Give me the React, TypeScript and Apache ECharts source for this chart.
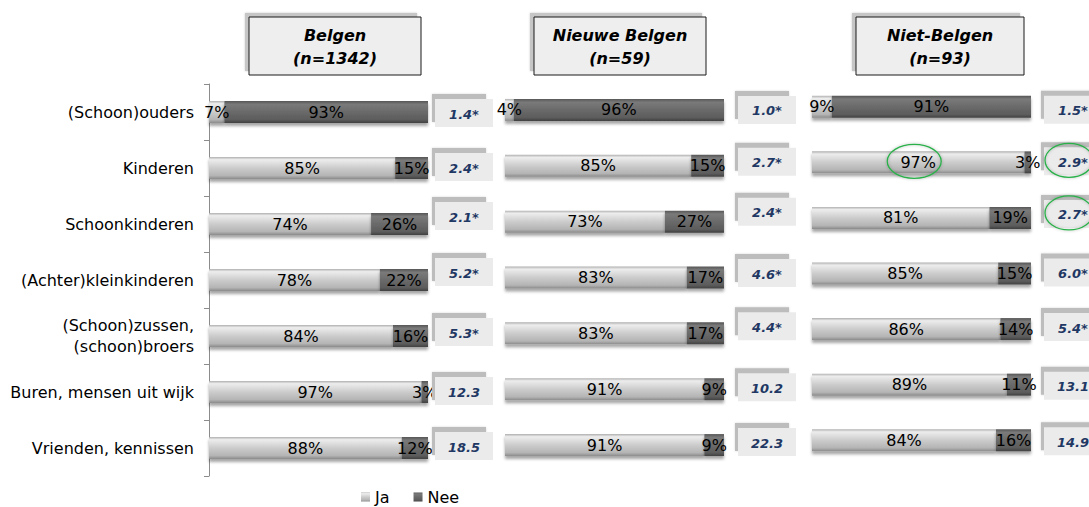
import React, { useEffect, useRef } from "react";
import * as echarts from "echarts";

// ---------- data ----------
const categories = [
  "(Schoon)ouders",
  "Kinderen",
  "Schoonkinderen",
  "(Achter)kleinkinderen",
  "(Schoon)zussen,\n(schoon)broers",
  "Buren, mensen uit wijk",
  "Vrienden, kennissen",
];
const groupTitles = ["Belgen", "Nieuwe Belgen", "Niet-Belgen"];
const groupSizes = ["(n=1342)", "(n=59)", "(n=93)"];
const seriesNames = ["Ja", "Nee"];

const jaBelgen = [7, 85, 74, 78, 84, 97, 88];
const neeBelgen = [93, 15, 26, 22, 16, 3, 12];
const jaNieuwe = [4, 85, 73, 83, 83, 91, 91];
const neeNieuwe = [96, 15, 27, 17, 17, 9, 9];
const jaNiet = [9, 97, 81, 85, 86, 89, 84];
const neeNiet = [91, 3, 19, 15, 14, 11, 16];

const scoreBelgen = ["1.4*", "2.4*", "2.1*", "5.2*", "5.3*", "12.3", "18.5"];
const scoreNieuwe = ["1.0*", "2.7*", "2.4*", "4.6*", "4.4*", "10.2", "22.3"];
const scoreNiet = ["1.5*", "2.9*", "2.7*", "6.0*", "5.4*", "13.1", "14.9"];

// highlighted (circled) items in the Niet-Belgen group
const circledLabels = [1]; // category index of circled "Ja" label
const circledScores = [1, 2]; // category indices of circled scores

// ---------- layout / style ----------
const FONT = "DejaVu Sans";
const panels = [
  { left: 209, top: 84, height: 392, boxX: 435, hx: 249, hw: 172, dy: [2, 0, -7, -7, -3, 0, -1] },
  { left: 505, top: 82, height: 391, boxX: 738, hx: 534, hw: 172, dy: [1, -3, -9, -3.5, -6, -1, -2] },
  { left: 812, top: 79, height: 389, boxX: 1044, hx: 856, hw: 168, dy: [4, 0, -3, 0, -1, 2, 2] },
];
const BAR_W = 219;
const BOX_W = 58;
const BOX_H = 28;

const jaColor = new echarts.graphic.LinearGradient(0, 0, 0, 1, [
  { offset: 0, color: "#b0b0b0" },
  { offset: 0.12, color: "#ededed" },
  { offset: 0.5, color: "#cccccc" },
  { offset: 0.85, color: "#b4b4b4" },
  { offset: 1, color: "#8a8a8a" },
]);
const neeColor = new echarts.graphic.LinearGradient(0, 0, 0, 1, [
  { offset: 0, color: "#555555" },
  { offset: 0.15, color: "#7a7a7a" },
  { offset: 0.5, color: "#6a6a6a" },
  { offset: 0.85, color: "#5c5c5c" },
  { offset: 1, color: "#404040" },
]);

export default function App() {
  const ref = useRef<HTMLDivElement>(null);

  useEffect(() => {
    document.body.style.margin = "0";
    const chart = echarts.init(ref.current!, null, { renderer: "svg" });

    const jaData = [jaBelgen, jaNieuwe, jaNiet];
    const neeData = [neeBelgen, neeNieuwe, neeNiet];
    const scores = [scoreBelgen, scoreNieuwe, scoreNiet];

    const grids = panels.map((p) => ({ left: p.left, top: p.top, width: BAR_W, height: p.height }));
    const xAxes = panels.map((_, i) => ({
      type: "value",
      gridIndex: i,
      min: 0,
      max: 100,
      show: false,
    }));
    const yAxes = panels.map((_, i) => ({
      type: "category",
      gridIndex: i,
      data: categories,
      inverse: true,
      show: i === 0,
      axisLine: { show: true, lineStyle: { color: "#8c8c8c", width: 1 } },
      axisTick: { show: true, length: 5, lineStyle: { color: "#8c8c8c" } },
      axisLabel: {
        show: true,
        margin: 15,
        color: "#000",
        fontFamily: FONT,
        fontSize: 16,
        lineHeight: 21,
        align: "right",
      },
    }));

    const labelStyle = {
      show: true,
      position: "inside",
      color: "#000",
      fontFamily: FONT,
      fontSize: 16,
      formatter: (p: any) => p.value + "%",
    };
    const shadow = { shadowBlur: 3, shadowOffsetY: 3, shadowColor: "rgba(0,0,0,0.35)" };

    const series: any[] = [];
    panels.forEach((_, i) => {
      series.push({
        name: seriesNames[0],
        type: "bar",
        stack: "s" + i,
        xAxisIndex: i,
        yAxisIndex: i,
        barWidth: 22,
        data: jaData[i],
        itemStyle: { color: jaColor, ...shadow },
        label: labelStyle,
      });
      series.push({
        name: seriesNames[1],
        type: "bar",
        stack: "s" + i,
        xAxisIndex: i,
        yAxisIndex: i,
        barWidth: 22,
        data: neeData[i],
        itemStyle: { color: neeColor, ...shadow },
        label: labelStyle,
      });
    });

    chart.setOption({
      animation: false,
      grid: grids,
      xAxis: xAxes,
      yAxis: yAxes,
      series,
      legend: {
        data: seriesNames,
        left: 361,
        top: 488,
        padding: 0,
        icon: "rect",
        itemWidth: 9,
        itemHeight: 9,
        itemGap: 24,
        textStyle: { color: "#000", fontFamily: FONT, fontSize: 16, lineHeight: 18 },
      },
    });

    const g: any[] = [];
    panels.forEach((p, pi) => {
      // header box
      g.push({
        type: "rect",
        shape: { x: p.hx - 4, y: 13, width: p.hw, height: 58 },
        style: { fill: "#c6c6c6", shadowBlur: 2, shadowColor: "rgba(0,0,0,0.2)" },
        z: 10,
      });
      g.push({
        type: "rect",
        shape: { x: p.hx, y: 17, width: p.hw, height: 58 },
        style: { fill: "#eeeeee", stroke: "#1a1a1a", lineWidth: 1 },
        z: 11,
      });
      g.push({
        type: "text",
        x: p.hx + p.hw / 2,
        y: 35,
        style: {
          text: groupTitles[pi],
          fontFamily: FONT,
          fontSize: 16,
          fontWeight: "bold",
          fontStyle: "italic",
          fill: "#000",
          align: "center",
          verticalAlign: "middle",
        },
        z: 12,
      });
      g.push({
        type: "text",
        x: p.hx + p.hw / 2,
        y: 58,
        style: {
          text: groupSizes[pi],
          fontFamily: FONT,
          fontSize: 16,
          fontWeight: "bold",
          fontStyle: "italic",
          fill: "#000",
          align: "center",
          verticalAlign: "middle",
        },
        z: 12,
      });

      // score boxes
      scores[pi].forEach((s, ci) => {
        const cy = (chart.convertToPixel({ yAxisIndex: pi } as any, ci) as number) + p.dy[ci];
        const top = cy - 15;
        g.push({
          type: "rect",
          shape: { x: p.boxX - 3, y: top - 5, width: BOX_W - 4, height: BOX_H },
          style: { fill: "#bdbdbd", shadowBlur: 2, shadowColor: "rgba(0,0,0,0.15)" },
          z: 10,
        });
        g.push({
          type: "rect",
          shape: { x: p.boxX, y: top, width: BOX_W, height: BOX_H },
          style: { fill: "#ebebeb" },
          z: 11,
        });
        g.push({
          type: "text",
          x: p.boxX + BOX_W / 2,
          y: cy,
          style: {
            text: s,
            fontFamily: FONT,
            fontSize: 13,
            fontWeight: "bold",
            fontStyle: "italic",
            fill: "#1f3864",
            align: "center",
            verticalAlign: "middle",
          },
          z: 12,
        });
        if (pi === 2 && circledScores.includes(ci)) {
          g.push({
            type: "ellipse",
            shape: { cx: p.boxX + BOX_W / 2 - 4, cy: cy - 2, rx: 24, ry: 17 },
            style: { fill: "none", stroke: "#2bb04a", lineWidth: 1.3, shadowBlur: 3, shadowColor: "rgba(0,0,0,0.3)" },
            z: 13,
          });
        }
      });
    });

    // circled "Ja" label in Niet-Belgen panel
    circledLabels.forEach((ci) => {
      const cx = chart.convertToPixel({ xAxisIndex: 2 } as any, jaNiet[ci] / 2) as number;
      const cy = chart.convertToPixel({ yAxisIndex: 2 } as any, ci) as number;
      g.push({
        type: "ellipse",
        shape: { cx: cx - 4, cy: cy - 1, rx: 27, ry: 17 },
        style: { fill: "none", stroke: "#2bb04a", lineWidth: 1.3, shadowBlur: 3, shadowColor: "rgba(0,0,0,0.3)" },
        z: 13,
      });
    });

    chart.setOption({ graphic: g });

    return () => chart.dispose();
  }, []);

  return <div ref={ref} style={{ width: 1089, height: 507 }} />;
}
